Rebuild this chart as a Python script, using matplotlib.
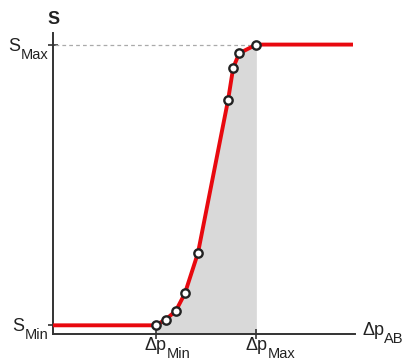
import numpy as np
import matplotlib.pyplot as plt
from matplotlib.transforms import offset_copy

plt.rcParams['font.family'] = ['Liberation Sans', 'DejaVu Sans']

# measured points on the characteristic (delta p, S)
dp_pts = [1.00, 1.10, 1.20, 1.29, 1.42, 1.72, 1.77, 1.83, 2.00]
s_pts = [0.03, 0.05, 0.08, 0.14, 0.28, 0.81, 0.92, 0.97, 1.00]

dp_min = 1.0
dp_max = 2.0
s_min = 0.03
s_max = 1.0
dp_end = 2.96

red = '#e8090f'
axc = '#333333'
txc = '#222222'
fs = 13
fs_sub = 10.5

fig = plt.figure(figsize=(4.07, 3.62), dpi=100)
ax = fig.add_axes([53/407, 28/362, 302/407, 301/362])
ax.set_xlim(-0.02, 2.98)
ax.set_ylim(0, 1.04)

# shaded area under the curve between dp_min and dp_max
ax.fill_between(dp_pts, s_pts, 0, color='#d9d9d9', lw=0, zorder=1)
ax.plot([0, dp_max], [s_max, s_max], ls=(0, (3, 2.5)), color='#aaaaaa', lw=0.9, zorder=2)

cx = [-0.02] + dp_pts + [dp_end]
cy = [s_min] + s_pts + [s_max]
ax.plot(cx, cy, color=red, lw=2.8, solid_capstyle='butt', zorder=3)
ax.plot(dp_pts, s_pts, 'o', ms=6, mfc='white', mec='#222222', mew=1.7, zorder=4)

for sp in ['top', 'right']:
    ax.spines[sp].set_visible(False)
for sp in ['left', 'bottom']:
    ax.spines[sp].set_color(axc)
    ax.spines[sp].set_linewidth(1.4)

ax.set_xticks([dp_min, dp_max])
ax.set_yticks([s_min, s_max])
ax.tick_params(direction='inout', length=7, width=1.2, color=axc,
               labelbottom=False, labelleft=False)


def xlabel_sub(x, main, sub, dy=-16, ha='center'):
    tr = offset_copy(ax.transData, fig=fig, x=0, y=dy, units='dots')
    t = ax.text(x, 0, main, ha=ha, va='baseline', fontsize=fs, color=txc,
                transform=tr, clip_on=False)
    ax.annotate(sub, xy=(1, 0), xycoords=(t, 'data'), xytext=(0, dy - 8),
                textcoords='offset pixels', ha='left', va='baseline',
                fontsize=fs_sub, color=txc, annotation_clip=False)


def ylabel_sub(y, main, sub):
    tr = offset_copy(ax.transAxes, fig=fig, x=-5, y=0, units='dots')
    s = ax.text(0, 0, sub, ha='right', va='baseline', fontsize=fs_sub, color=txc,
                transform=tr, clip_on=False)
    s.set_transform(offset_copy(ax.get_yaxis_transform(), fig=fig, x=-5, y=-14, units='dots'))
    s.set_position((0, y))
    ax.annotate(main, xy=(0, y), xycoords=(s, 'data'), xytext=(0, -6),
                textcoords='offset pixels', ha='right', va='baseline',
                fontsize=fs, color=txc, annotation_clip=False)


xlabel_sub(dp_min, 'Δp', 'Min')
xlabel_sub(dp_max, 'Δp', 'Max')
xlabel_sub(3.05, 'Δp', 'AB', dy=-1, ha='left')
ylabel_sub(s_max, 'S', 'Max')
ylabel_sub(s_min, 'S', 'Min')

ax.text(-0.01, 1.085, 'S', ha='center', va='center', fontsize=fs, fontweight='bold',
        color=txc, clip_on=False)

fig.savefig('out.png', dpi=100)
